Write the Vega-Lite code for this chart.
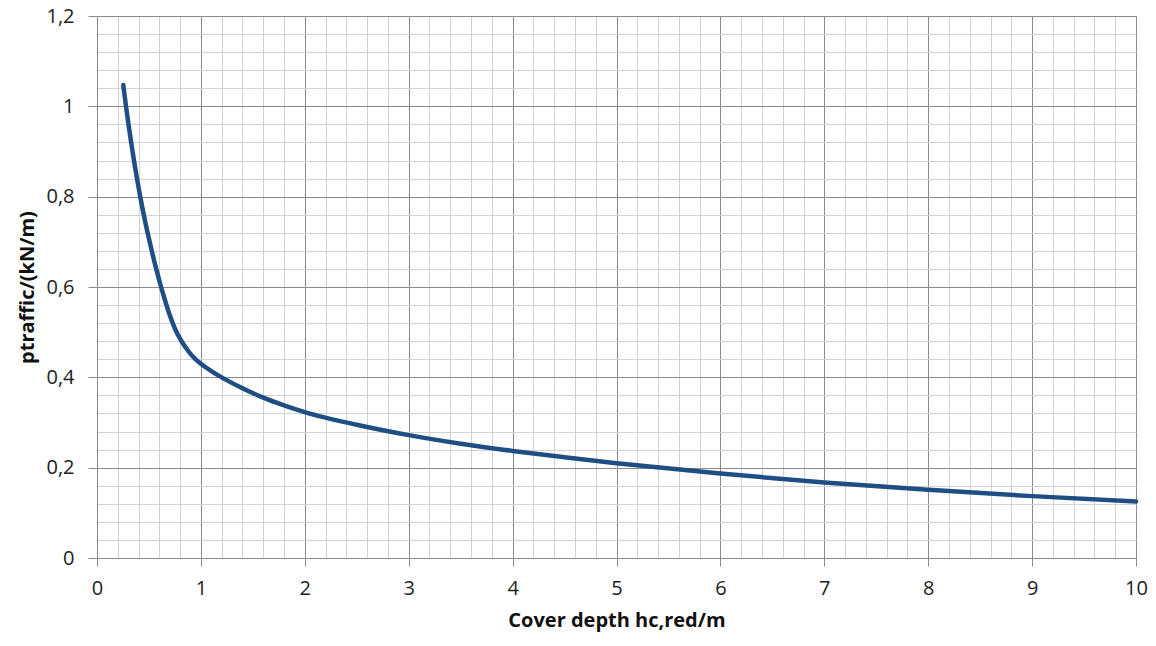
{
  "$schema": "https://vega.github.io/schema/vega-lite/v6.json",
  "width": 1039,
  "height": 542,
  "autosize": {"type": "none"},
  "padding": {"left": 97, "top": 16, "right": 20, "bottom": 88},
  "background": "white",
  "config": {"view": {"stroke": "#8a8a8a"}, "font": "Open Sans"},
  "data": {"values": [
    {"h": 0.253, "p": 1.047},
    {"h": 0.279, "p": 1.0},
    {"h": 0.303, "p": 0.96},
    {"h": 0.329, "p": 0.92},
    {"h": 0.356, "p": 0.88},
    {"h": 0.385, "p": 0.84},
    {"h": 0.416, "p": 0.8},
    {"h": 0.45, "p": 0.76},
    {"h": 0.487, "p": 0.72},
    {"h": 0.527, "p": 0.68},
    {"h": 0.57, "p": 0.64},
    {"h": 0.617, "p": 0.6},
    {"h": 0.65, "p": 0.574},
    {"h": 0.7, "p": 0.538},
    {"h": 0.75, "p": 0.508},
    {"h": 0.8, "p": 0.485},
    {"h": 0.85, "p": 0.467},
    {"h": 0.9, "p": 0.452},
    {"h": 0.95, "p": 0.44},
    {"h": 1.0, "p": 0.43},
    {"h": 1.1, "p": 0.414},
    {"h": 1.2, "p": 0.4},
    {"h": 1.4, "p": 0.376},
    {"h": 1.6, "p": 0.355},
    {"h": 1.8, "p": 0.338},
    {"h": 2.0, "p": 0.323},
    {"h": 2.5, "p": 0.295},
    {"h": 3.0, "p": 0.272},
    {"h": 3.5, "p": 0.253},
    {"h": 4.0, "p": 0.237},
    {"h": 4.5, "p": 0.223},
    {"h": 5.0, "p": 0.21},
    {"h": 6.0, "p": 0.187},
    {"h": 7.0, "p": 0.167},
    {"h": 8.0, "p": 0.151},
    {"h": 9.0, "p": 0.137},
    {"h": 10.0, "p": 0.125}
  ]},
  "mark": {"type": "line", "interpolate": "monotone", "color": "#1f4e85", "strokeWidth": 4.5, "strokeCap": "round"},
  "encoding": {
    "x": {
      "field": "h", "type": "quantitative",
      "scale": {"domain": [0, 10], "nice": false, "zero": false},
      "axis": {
        "values": [0,0.2,0.4,0.6,0.8,1,1.2,1.4,1.6,1.8,2,2.2,2.4,2.6,2.8,3,3.2,3.4,3.6,3.8,4,4.2,4.4,4.6,4.8,5,5.2,5.4,5.6,5.8,6,6.2,6.4,6.6,6.8,7,7.2,7.4,7.6,7.8,8,8.2,8.4,8.6,8.8,9,9.2,9.4,9.6,9.8,10],
        "labelExpr": "abs(datum.value - round(datum.value)) < 1e-6 ? format(datum.value, 'd') : ''",
        "grid": true,
        "gridColor": {"condition": {"test": "abs(datum.value - round(datum.value)) < 1e-6", "value": "#8a8a8a"}, "value": "#d2d2d2"},
        "gridWidth": 1,
        "tickColor": {"condition": {"test": "abs(datum.value - round(datum.value)) < 1e-6", "value": "#8a8a8a"}, "value": "transparent"},
        "tickSize": 8,
        "domainColor": "#8a8a8a",
        "labelFontSize": 20,
        "labelColor": "#222222",
        "labelPadding": 12,
        "labelFlush": false,
        "labelOverlap": false,
        "title": "Cover depth hc,red/m",
        "titleFontSize": 20,
        "titleFontWeight": "bold",
        "titleColor": "#111111",
        "titlePadding": 12
      }
    },
    "y": {
      "field": "p", "type": "quantitative",
      "scale": {"domain": [0, 1.2], "nice": false, "zero": false},
      "axis": {
        "values": [0,0.04,0.08,0.12,0.16,0.2,0.24,0.28,0.32,0.36,0.4,0.44,0.48,0.52,0.56,0.6,0.64,0.68,0.72,0.76,0.8,0.84,0.88,0.92,0.96,1,1.04,1.08,1.12,1.16,1.2],
        "labelExpr": "abs(datum.value*5 - round(datum.value*5)) < 1e-6 ? replace(format(datum.value, '~g'), '.', ',') : ''",
        "grid": true,
        "gridColor": {"condition": {"test": "abs(datum.value*5 - round(datum.value*5)) < 1e-6", "value": "#8a8a8a"}, "value": "#d2d2d2"},
        "gridWidth": 1,
        "tickColor": {"condition": {"test": "abs(datum.value*5 - round(datum.value*5)) < 1e-6", "value": "#8a8a8a"}, "value": "transparent"},
        "tickSize": 9,
        "domainColor": "#8a8a8a",
        "labelFontSize": 20,
        "labelColor": "#222222",
        "labelPadding": 14,
        "labelFlush": false,
        "labelOverlap": false,
        "title": "ptraffic/(kN/m)",
        "titleFontSize": 20,
        "titleFontWeight": "bold",
        "titleColor": "#111111",
        "titlePadding": 8
      }
    }
  }
}
